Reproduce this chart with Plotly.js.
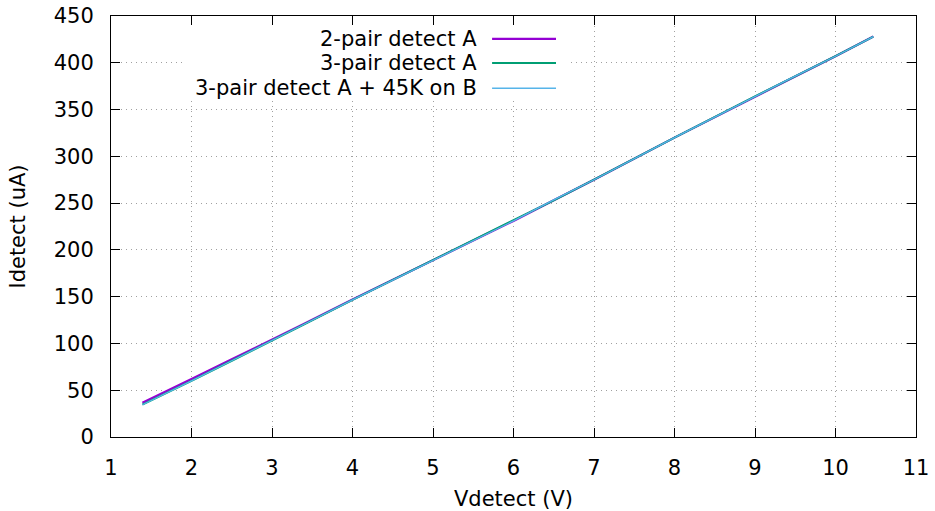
<!DOCTYPE html>
<html>
<head>
<meta charset="utf-8">
<script src="https://cdn.plot.ly/plotly-3.0.1.min.js"></script>
<style>
  html, body { margin: 0; padding: 0; background: #fff; }
  #chart { width: 935px; height: 511px; }
</style>
</head>
<body>
<div id="chart"></div>
<script>
// ---- data ----
const seriesNames = ["2-pair detect A", "3-pair detect A", "3-pair detect A + 45K on B"];
const seriesColors = ["#9400d3", "#009e73", "#56b4e9"];
const seriesWidths = [2.2, 2, 1.3];

const vdetect2 = [1.39, 1.6, 2.0, 2.5, 3.0, 3.3, 3.4, 4.0, 5.0, 6.0, 6.5, 7.0, 8.0, 9.0, 9.4, 10.0, 10.47];
const idetect2 = [36.5, 45, 62, 83, 104, 116, 121, 147, 189, 231, 253, 275, 320, 364, 381, 407, 428];

const vdetect3 = [1.39, 1.6, 2.0, 2.5, 3.0, 3.3, 3.4, 4.0, 5.0, 6.0, 6.5, 7.0, 8.0, 9.0, 9.4, 10.0, 10.47];
const idetect3 = [34.5, 43, 60, 81.5, 103, 115.5, 120.5, 146.5, 189, 231, 253, 275, 320, 364, 381, 407, 428];

const vdetect3b = [1.39, 1.6, 2.0, 2.5, 3.0, 3.3, 3.4, 4.0, 5.0, 6.0, 6.5, 7.0, 8.0, 9.0, 9.4, 10.0, 10.47];
const idetect3b = [34.5, 43, 60, 81.5, 103, 115.5, 120.5, 146.5, 189, 231, 253.5, 275, 320, 364, 381.5, 407, 428];

const xTickVals = [1, 2, 3, 4, 5, 6, 7, 8, 9, 10, 11];
const yTickVals = [0, 50, 100, 150, 200, 250, 300, 350, 400, 450];

const xs = [vdetect2, vdetect3, vdetect3b];
const ys = [idetect2, idetect3, idetect3b];

const FONT = "DejaVu Sans, Liberation Sans, sans-serif";

const traces = seriesNames.map((name, i) => ({
  type: "scatter",
  mode: "lines",
  name: name,
  x: xs[i],
  y: ys[i],
  line: { color: seriesColors[i], width: seriesWidths[i] },
  showlegend: false,
  hoverinfo: "skip"
}));

// gnuplot-like key: text right-aligned, sample line to its right, opaque box
const keyTextX = 0.4573;
const keySampleX0 = 0.4734, keySampleX1 = 0.5528;
const keyRowsY = [0.9459, 0.8884, 0.8284];

const annotations = seriesNames.map((name, i) => ({
  xref: "paper", yref: "paper",
  x: keyTextX, y: keyRowsY[i],
  xanchor: "right", yanchor: "middle",
  text: name, showarrow: false,
  font: { family: FONT, size: 21, color: "#000" }
}));

const shapes = [{
  type: "rect", xref: "paper", yref: "paper",
  x0: 0.0926, x1: 0.5677, y0: 0.800, y1: 0.978,
  fillcolor: "#fff", line: { width: 0 }, layer: "above"
}].concat(seriesNames.map((name, i) => ({
  type: "line", xref: "paper", yref: "paper",
  x0: keySampleX0, x1: keySampleX1, y0: keyRowsY[i], y1: keyRowsY[i],
  line: { color: seriesColors[i], width: seriesWidths[i] }, layer: "above"
})));

const axisCommon = {
  showline: true, linecolor: "#000", linewidth: 1,
  mirror: "ticks", ticks: "inside", ticklen: 9, tickwidth: 1, tickcolor: "#000",
  showgrid: true, gridcolor: "#a0a0a0", gridwidth: 1, griddash: "1px,4px",
  zeroline: false,
  tickfont: { family: FONT, size: 21, color: "#000" },
  ticklabelstandoff: 12
};

const layout = {
  width: 935, height: 511,
  margin: { l: 111, r: 19, t: 16, b: 74, pad: 0 },
  paper_bgcolor: "#fff", plot_bgcolor: "#fff",
  showlegend: false,
  font: { family: FONT, size: 21, color: "#000" },
  xaxis: Object.assign({}, axisCommon, {
    range: [1, 11], tickvals: xTickVals, ticktext: xTickVals.map(String),
    title: { text: "Vdetect (V)", font: { family: FONT, size: 21, color: "#000" }, standoff: 15 }
  }),
  yaxis: Object.assign({}, axisCommon, {
    range: [0, 450], tickvals: yTickVals, ticktext: yTickVals.map(String),
    title: { text: "Idetect (uA)", font: { family: FONT, size: 21, color: "#000" }, standoff: 22 }
  }),
  annotations: annotations,
  shapes: shapes
};

Plotly.newPlot("chart", traces, layout, { displayModeBar: false, staticPlot: true });
</script>
</body>
</html>
